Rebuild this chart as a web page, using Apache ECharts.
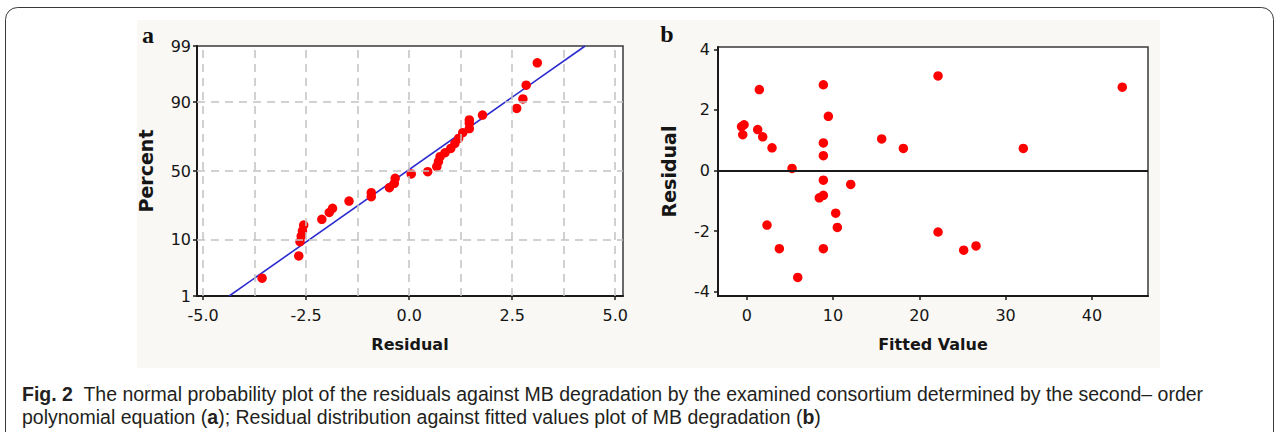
<!DOCTYPE html>
<html>
<head>
<meta charset="utf-8">
<script src="https://cdn.jsdelivr.net/npm/echarts@6/dist/echarts.min.js"></script>
<style>
html,body{margin:0;padding:0;background:#fff;}
#chart{width:1282px;height:432px;}
</style>
</head>
<body>
<div id="chart"></div>
<script>
// ---------- data ----------
// Panel a: normal probability plot
const probResiduals = [-3.57,-2.68,-2.65,-2.62,-2.59,-2.56,-2.12,-1.94,-1.86,-1.46,-0.92,-0.92,-0.48,-0.36,-0.34,0.05,0.45,0.67,0.71,0.75,0.87,1.01,1.11,1.20,1.30,1.46,1.46,1.46,1.78,2.61,2.76,2.84,3.11];
const probPercents  = [2.3,5.7,9.4,11.3,13.3,15.7,18.4,22.0,24.4,28.8,31.6,34.3,37.8,40.9,44.6,47.8,49.5,53.2,56.9,60.5,63.3,66.3,69.7,72.8,76.2,78.5,81.3,82.9,85.1,87.8,91.0,94.5,97.8];
const fitLineResidual = [-4.37, 4.27];
const fitLinePercent  = [1, 99];
const percentTicks = [1, 10, 50, 90, 99];
const percentGrid  = [10, 50, 90];
const residualTicksA = [-5, -2.5, 0, 2.5, 5];
const residualGridA  = [-5, -3.75, -2.5, -1.25, 0, 1.25, 2.5, 3.75, 5];

// Panel b: residuals vs fitted values
const fittedValues    = [1.46,8.88,9.46,-0.31,-0.60,-0.46,1.27,1.85,2.93,8.88,8.88,5.25,8.88,12.05,8.41,8.88,10.31,10.50,2.35,3.78,8.88,5.91,22.17,43.52,15.64,18.15,32.05,22.17,25.14,26.57];
const fittedResiduals = [2.67,2.83,1.79,1.51,1.45,1.18,1.35,1.11,0.75,0.91,0.49,0.07,-0.32,-0.46,-0.90,-0.82,-1.41,-1.88,-1.80,-2.58,-2.58,-3.53,3.12,2.75,1.04,0.73,0.73,-2.03,-2.63,-2.49];
const fittedTicks = [0, 10, 20, 30, 40];
const residualTicksB = [-4, -2, 0, 2, 4];

// ---------- normal probability scale ----------
function normInv(p){
  const a=[-3.969683028665376e+01,2.209460984245205e+02,-2.759285104469687e+02,1.383577518672690e+02,-3.066479806614716e+01,2.506628277459239e+00];
  const b=[-5.447609879822406e+01,1.615858368580409e+02,-1.556989798598866e+02,6.680131188771972e+01,-1.328068155288572e+01];
  const c=[-7.784894002430293e-03,-3.223964580411365e-01,-2.400758277161838e+00,-2.549732539343734e+00,4.374664141464968e+00,2.938163982698783e+00];
  const d=[7.784695709041462e-03,3.224671290700398e-01,2.445134137142996e+00,3.754408661907416e+00];
  const pl=0.02425, ph=1-pl; let q,r;
  if(p<pl){q=Math.sqrt(-2*Math.log(p));return (((((c[0]*q+c[1])*q+c[2])*q+c[3])*q+c[4])*q+c[5])/((((d[0]*q+d[1])*q+d[2])*q+d[3])*q+1);}
  if(p<=ph){q=p-0.5;r=q*q;return (((((a[0]*r+a[1])*r+a[2])*r+a[3])*r+a[4])*r+a[5])*q/(((((b[0]*r+b[1])*r+b[2])*r+b[3])*r+b[4])*r+1);}
  q=Math.sqrt(-2*Math.log(1-p));return -(((((c[0]*q+c[1])*q+c[2])*q+c[3])*q+c[4])*q+c[5])/((((d[0]*q+d[1])*q+d[2])*q+d[3])*q+1);
}
const z = p => normInv(p/100);
const percentTickZ = percentTicks.map(z);
function percentLabel(v){
  let best=0;
  percentTickZ.forEach((t,i)=>{ if(Math.abs(t-v)<Math.abs(percentTickZ[best]-v)) best=i; });
  return String(percentTicks[best]);
}

const probData = probResiduals.map((r,i)=>[r, z(probPercents[i])]);
const fitData  = fitLineResidual.map((r,i)=>[r, z(fitLinePercent[i])]);
const fittedData = fittedValues.map((f,i)=>[f, fittedResiduals[i]]);

// ---------- styling ----------
const tickFont = {fontFamily:'DejaVu Sans', fontSize:16, color:'#161616'};
const nameFontX = {fontFamily:'DejaVu Sans', fontSize:16, fontWeight:'bold', color:'#161616'};
const nameFontY = {fontFamily:'DejaVu Sans', fontSize:19, fontWeight:'bold', color:'#161616'};
const axisLineStyle = {onZero:false, lineStyle:{color:'#1a1a1a', width:2}};
const tickStyle = {show:true, length:4, lineStyle:{color:'#1a1a1a', width:1.5}};
const gridDash = {type:[8,6], color:'#c2c2c2', width:1.5};
const capFont = '19.5px "Liberation Sans"';
const capBold = 'bold 19.5px "Liberation Sans"';
const dotStyle = {color:'#ff0000', opacity:1};

const chart = echarts.init(document.getElementById('chart'), null, {renderer:'svg'});
chart.setOption({
  backgroundColor:'#ffffff',
  animation:false,
  graphic:[
    {type:'rect', z:-100, shape:{x:137, y:20, width:1023, height:348}, style:{fill:'#faf8f4'}},
    {type:'rect', z:-90, shape:{x:5.5, y:7.5, width:1268, height:470, r:12}, style:{fill:'none', stroke:'#3a3a3a', lineWidth:1}},
    {type:'text', z:100, x:148, y:35, style:{text:'a', font:'bold 24px "Liberation Serif"', fill:'#111', align:'center', verticalAlign:'middle'}},
    {type:'text', z:100, x:667, y:34, style:{text:'b', font:'bold 24px "Liberation Serif"', fill:'#111', align:'center', verticalAlign:'middle'}},
    {type:'text', z:100, x:22, y:394, style:{
      text:'{b|Fig. 2}  The normal probability plot of the residuals against MB degradation by the examined consortium determined by the second\u2012 order',
      font:capFont, fill:'#231f20', verticalAlign:'middle',
      rich:{b:{font:capBold, fill:'#231f20'}}}},
    {type:'text', z:100, x:22, y:417, style:{
      text:'polynomial equation ({b|a}); Residual distribution against fitted values plot of MB degradation ({b|b})',
      font:capFont, fill:'#231f20', verticalAlign:'middle',
      rich:{b:{font:capBold, fill:'#231f20'}}}}
  ],
  grid:[
    {left:197, top:46, width:426, height:250, show:true, backgroundColor:'#ffffff', borderColor:'#3a3a3a', borderWidth:1.5},
    {left:718, top:47, width:430, height:249, show:true, backgroundColor:'#ffffff', borderColor:'#3a3a3a', borderWidth:1.5}
  ],
  xAxis:[
    {gridIndex:0, type:'value', min:-5.15, max:5.19,
     name:'Residual', nameLocation:'middle', nameGap:40, nameTextStyle:nameFontX,
     axisLine:axisLineStyle, axisTick:Object.assign({customValues:residualTicksA}, tickStyle),
     axisLabel:Object.assign({customValues:residualTicksA, margin:11, formatter:v=>v.toFixed(1)}, tickFont),
     splitLine:{show:false}},
    {gridIndex:1, type:'value', min:-3.33, max:46.5,
     name:'Fitted Value', nameLocation:'middle', nameGap:40, nameTextStyle:nameFontX,
     axisLine:axisLineStyle, axisTick:Object.assign({customValues:fittedTicks}, tickStyle),
     axisLabel:Object.assign({customValues:fittedTicks, margin:11, formatter:v=>String(Math.round(v))}, tickFont),
     splitLine:{show:false}}
  ],
  yAxis:[
    {gridIndex:0, type:'value', min:normInv(0.01), max:normInv(0.99),
     name:'Percent', nameLocation:'middle', nameGap:42, nameTextStyle:nameFontY,
     axisLine:axisLineStyle, axisTick:Object.assign({customValues:percentTickZ}, tickStyle),
     axisLabel:Object.assign({customValues:percentTickZ, margin:6, formatter:percentLabel}, tickFont),
     splitLine:{show:false}},
    {gridIndex:1, type:'value', min:-4.142, max:4.076,
     name:'Residual', nameLocation:'middle', nameGap:40, nameTextStyle:nameFontY,
     axisLine:axisLineStyle, axisTick:Object.assign({customValues:residualTicksB}, tickStyle),
     axisLabel:Object.assign({customValues:residualTicksB, margin:8, formatter:v=>String(Math.round(v))}, tickFont),
     splitLine:{show:false}}
  ],
  series:[
    {type:'line', xAxisIndex:0, yAxisIndex:0, data:[], z:1, silent:true,
     markLine:{silent:true, symbol:'none', label:{show:false}, lineStyle:gridDash, animation:false,
       data:[].concat(residualGridA.map(v=>({xAxis:v})), percentGrid.map(p=>({yAxis:z(p)})))}},
    {type:'line', xAxisIndex:0, yAxisIndex:0, data:fitData, z:3, symbol:'none',
     lineStyle:{color:'#2b2bd0', width:1.6}},
    {type:'scatter', xAxisIndex:0, yAxisIndex:0, data:probData, z:4, symbol:'circle', symbolSize:9.5,
     itemStyle:dotStyle},
    {type:'line', xAxisIndex:1, yAxisIndex:1, data:[], z:2, silent:true,
     markLine:{silent:true, symbol:'none', label:{show:false}, lineStyle:{type:'solid', color:'#1a1a1a', width:2}, animation:false,
       data:[{yAxis:0}]}},
    {type:'scatter', xAxisIndex:1, yAxisIndex:1, data:fittedData, z:4, symbol:'circle', symbolSize:9.5,
     itemStyle:dotStyle}
  ]
});
</script>
</body>
</html>
